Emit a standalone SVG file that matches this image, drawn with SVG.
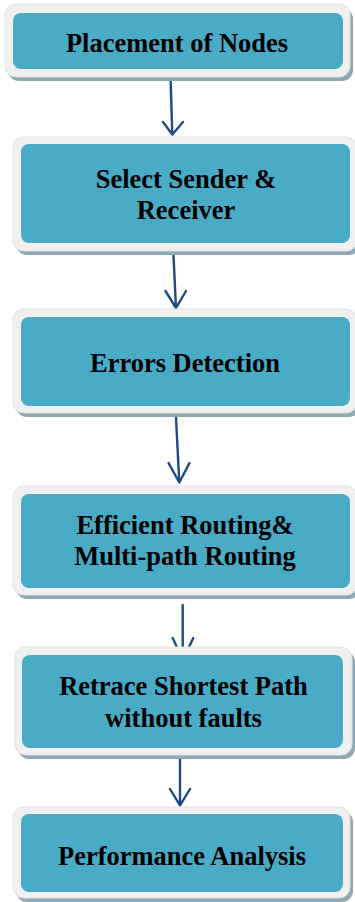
<svg xmlns="http://www.w3.org/2000/svg" width="355" height="902" viewBox="0 0 355 902">
  <style>
    .shadow { fill: #8fa9b4; }
    .frame { fill: #f0f0f0; stroke: #e2e2e2; stroke-width: 1; }
    .face { fill: #4aabc6; }
    .label { font-family: "Liberation Serif", "Times New Roman", serif; font-weight: bold; font-size: 26.5px; fill: #000; text-anchor: middle; }
    .conn { stroke: #1f4a82; stroke-width: 2.4; fill: none; stroke-linecap: round; stroke-linejoin: round; }
  </style>
  <rect width="355" height="902" fill="#ffffff"/>

  <!-- connectors (drawn first so node frames sit over the tips) -->
  <g id="connectors">
    <path class="conn" d="M170.5,76 L172.3,134.5 M163,122 L172.3,134.5 L183,122"/>
    <path class="conn" d="M173,245 L176,308 M165.5,291 L176,308 L186,291"/>
    <path class="conn" d="M176,418 L179.3,482.5 M168.5,463 L179.3,482.5 L189.5,463"/>
    <path class="conn" d="M182.7,605 L182.7,660 M172.7,638 L182.7,660 L193.3,638"/>
    <path class="conn" d="M180,755 L180,805.5 M170,789 L180,805.5 L190,789"/>
  </g>

  <g id="node-placement">
    <rect class="shadow" x="8" y="8" width="345" height="73" rx="11"/>
    <rect class="frame" x="5" y="4" width="345" height="73" rx="11"/>
    <rect class="face" x="13" y="13" width="330" height="56" rx="8"/>
    <text class="label" x="177" y="52">Placement of Nodes</text>
  </g>

  <g id="node-select">
    <rect class="shadow" x="16" y="141" width="344" height="114" rx="11"/>
    <rect class="frame" x="13" y="137" width="344" height="114" rx="11"/>
    <rect class="face" x="21" y="144" width="329" height="99" rx="8"/>
    <text class="label" x="186" y="187.5">Select Sender &amp;</text>
    <text class="label" x="186" y="218.5">Receiver</text>
  </g>

  <g id="node-errors">
    <rect class="shadow" x="16" y="313" width="344" height="104" rx="11"/>
    <rect class="frame" x="13" y="309" width="344" height="104" rx="11"/>
    <rect class="face" x="21" y="317" width="329" height="89" rx="8"/>
    <text class="label" x="185" y="372">Errors Detection</text>
  </g>

  <g id="node-routing">
    <rect class="shadow" x="16" y="490" width="344" height="109" rx="11"/>
    <rect class="frame" x="13" y="486" width="344" height="109" rx="11"/>
    <rect class="face" x="21" y="494" width="329" height="94" rx="8"/>
    <text class="label" x="185" y="534">Efficient Routing&amp;</text>
    <text class="label" x="185" y="565">Multi-path Routing</text>
  </g>

  <g id="node-retrace">
    <rect class="shadow" x="18" y="651" width="337" height="108" rx="11"/>
    <rect class="frame" x="15" y="647" width="337" height="108" rx="11"/>
    <rect class="face" x="22" y="655" width="321" height="93" rx="8"/>
    <text class="label" x="183.5" y="695">Retrace Shortest Path</text>
    <text class="label" x="183.5" y="727">without faults</text>
  </g>

  <g id="node-performance">
    <rect class="shadow" x="16" y="811" width="337" height="91" rx="11"/>
    <rect class="frame" x="13" y="807" width="337" height="91" rx="11"/>
    <rect class="face" x="21" y="814" width="322" height="78" rx="8"/>
    <text class="label" x="182" y="865">Performance Analysis</text>
  </g>
</svg>
